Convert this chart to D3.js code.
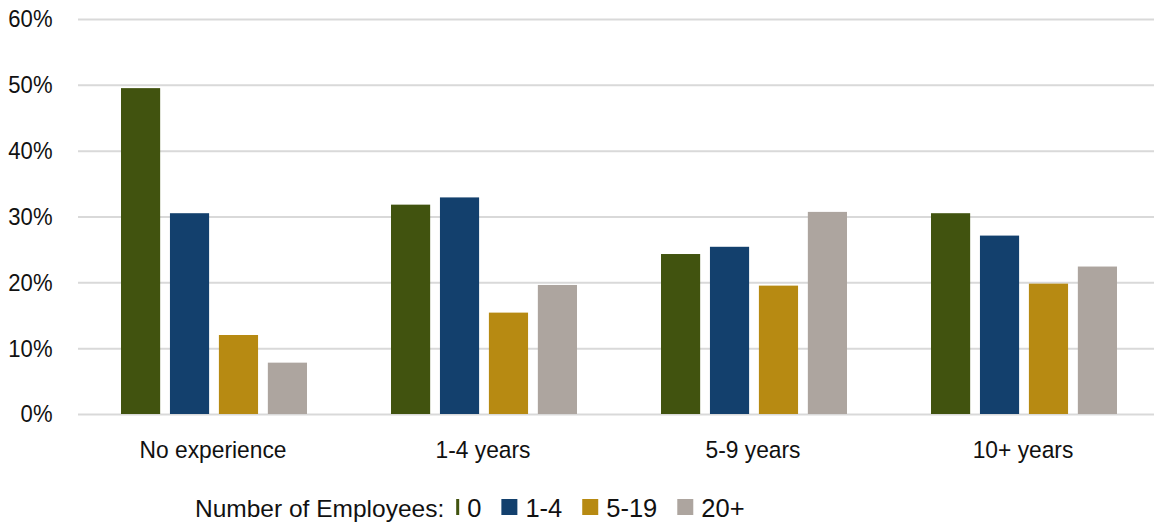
<!DOCTYPE html>
<html>
<head>
<meta charset="utf-8">
<script src="https://cdn.jsdelivr.net/npm/d3@7"></script>
<style>
	body { margin: 0; background: #fff; }
	svg { display: block; font-family: "Liberation Sans", Arial, sans-serif; }
</style>
</head>
<body>
<div id="chart"></div>
<script>
var categories = ["No experience", "1-4 years", "5-9 years", "10+ years"];
var seriesNames = ["0", "1-4", "5-19", "20+"];
var values0 = [0.495, 0.318, 0.243, 0.305];
var values1_4 = [0.305, 0.329, 0.254, 0.271];
var values5_19 = [0.120, 0.154, 0.195, 0.198];
var values20plus = [0.078, 0.196, 0.307, 0.224];
var yTicks = [0, 0.1, 0.2, 0.3, 0.4, 0.5, 0.6];
var colors = ["#41530f", "#13406d", "#b78a12", "#ada59f"];

var series = [values0, values1_4, values5_19, values20plus];

var width = 1154, height = 525;

// narrow a text a bit, the source font is slightly condensed
function squeeze(sel, f) {
	sel.each(function () {
		var len = this.getComputedTextLength();
		d3.select(this)
			.attr("textLength", len * f)
			.attr("lengthAdjust", "spacingAndGlyphs");
	});
}

var svg = d3.select("#chart")
	.append("svg")
	.attr("width", width)
	.attr("height", height);

var x0 = d3.scaleBand()
	.domain(categories)
	.range([78, 1158]);

var x1 = d3.scaleBand()
	.domain(seriesNames)
	.range([43, 229])
	.paddingInner(0.2);

var y = d3.scaleLinear()
	.domain([0, 0.6])
	.range([414, 19]);

// gridlines + y labels
var yAxis = svg.append("g")
	.attr("transform", "translate(78,0)")
	.call(d3.axisLeft(y)
		.tickValues(yTicks)
		.tickFormat(d3.format(".0%"))
		.tickSize(-(width - 78))
		.tickPadding(25.5));
yAxis.select(".domain").remove();
yAxis.selectAll(".tick line")
	.attr("stroke", "#d9d9d9")
	.attr("stroke-width", 2);
yAxis.selectAll(".tick text")
	.attr("fill", "#111")
	.style("font-size", "24.5px")
	.style("font-family", "'Liberation Sans', Arial, sans-serif")
	.call(squeeze, 0.9);

// bars
var groups = svg.append("g")
	.selectAll("g")
	.data(categories)
	.enter()
	.append("g")
	.attr("transform", function (d) { return "translate(" + x0(d) + ",0)"; });

groups.selectAll("rect")
	.data(function (d, i) {
		return seriesNames.map(function (s, j) {
			return {key: s, value: series[j][i], color: colors[j]};
		});
	})
	.enter()
	.append("rect")
	.attr("x", function (d) { return x1(d.key); })
	.attr("width", x1.bandwidth())
	.attr("y", function (d) { return y(d.value); })
	.attr("height", function (d) { return y(0) - y(d.value); })
	.attr("fill", function (d) { return d.color; });

// category axis
var xAxis = svg.append("g")
	.attr("transform", "translate(0," + y(0) + ")")
	.call(d3.axisBottom(x0).tickSize(0).tickPadding(26.5));
xAxis.select(".domain").remove();
xAxis.selectAll(".tick text")
	.attr("fill", "#111")
	.style("font-size", "24.5px")
	.style("font-family", "'Liberation Sans', Arial, sans-serif")
	.call(squeeze, 0.93);

// legend
var legend = svg.append("g")
	.attr("class", "legend")
	.attr("fill", "#111");

var legendY = 516.5;
var cursor = 195;

var title = legend.append("text")
	.attr("x", cursor)
	.attr("y", legendY)
	.style("font-size", "24.5px")
	.text("Number of Employees:");
cursor += title.node().getComputedTextLength() + 12;

seriesNames.forEach(function (name, i) {
	var w = i === 0 ? 3 : 16;
	legend.append("rect")
		.attr("x", cursor)
		.attr("y", 499)
		.attr("width", w)
		.attr("height", 16)
		.attr("fill", colors[i]);
	cursor += w + 8;
	var t = legend.append("text")
		.attr("x", cursor)
		.attr("y", legendY)
		.style("font-size", "25.5px")
		.text(name);
	cursor += t.node().getComputedTextLength() + 20;
});
</script>
</body>
</html>
